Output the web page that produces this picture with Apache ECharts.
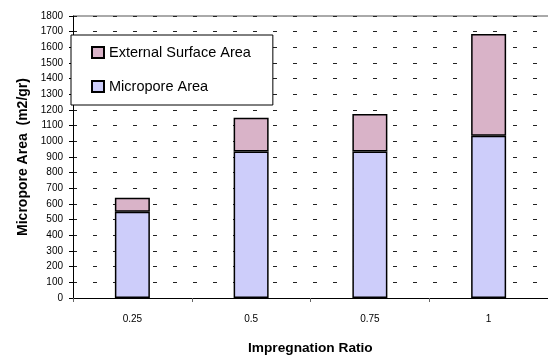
<!DOCTYPE html>
<html><head><meta charset="utf-8">
<script src="https://cdn.jsdelivr.net/npm/echarts@6/dist/echarts.min.js"></script>
<style>html,body{margin:0;padding:0;background:#fff}#c{width:548px;height:358px}</style>
</head><body><div id="c"></div>
<script>
const categories = ['0.25', '0.5', '0.75', '1'];
const microporeArea = [550, 935, 935, 1035];
const externalArea = [90, 215, 240, 650];
const yTicks = [0, 1800, 100];

const chart = echarts.init(document.getElementById('c'), null, {renderer: 'canvas'});
const font = 'Liberation Sans, Arial, sans-serif';
chart.setOption({
  animation: false,
  backgroundColor: '#fff',
  grid: {left: 73, top: 16, width: 537, height: 282, containLabel: false},
  legend: {
    orient: 'vertical', left: 71, top: 35,
    data: ['External Surface Area', 'Micropore Area'],
    backgroundColor: '#fff', borderColor: '#000', borderWidth: 1,
    padding: [10, 22, 11, 20], itemGap: 19, itemWidth: 12, itemHeight: 11,
    textStyle: {fontFamily: font, fontSize: 14.5, color: '#000'},
    icon: 'rect'
  },
  xAxis: {
    type: 'category', data: categories,
    axisLine: {lineStyle: {color: '#000', width: 1}},
    axisTick: {show: true, length: 4, lineStyle: {color: '#666'}},
    axisLabel: {fontFamily: font, fontSize: 10, color: '#000', margin: 16},
    splitLine: {show: false}
  },
  yAxis: {
    type: 'value', min: yTicks[0], max: yTicks[1], interval: yTicks[2],
    name: 'Micropore Area  (m2/gr)', nameLocation: 'middle', nameGap: 40,
    nameTextStyle: {fontFamily: font, fontSize: 14, fontWeight: 'bold', color: '#000'},
    axisLine: {show: true, lineStyle: {color: '#000', width: 1}},
    axisTick: {show: true, length: 4, inside: false, lineStyle: {color: '#000'}},
    axisLabel: {fontFamily: font, fontSize: 10, color: '#000', margin: 10, formatter: v => String(v)},
    splitLine: {show: true, lineStyle: {color: '#222', width: 1, type: [4, 16], dashOffset: 0}}
  },
  graphic: [
    {type: 'line', shape: {x1: 73, y1: 16, x2: 548, y2: 16}, style: {stroke: '#555', lineWidth: 1}},
    {type: 'text', left: 248, top: 341, style: {text: 'Impregnation Ratio', font: 'bold 13.7px ' + font, fill: '#000'}}
  ],
  series: [
    {name: 'Micropore Area', type: 'bar', stack: 'a', data: microporeArea, barWidth: 35,
     itemStyle: {color: '#cdcdfa', borderColor: '#000', borderWidth: 1.5}},
    {name: 'External Surface Area', type: 'bar', stack: 'a', data: externalArea, barWidth: 35,
     itemStyle: {color: '#d9b3c8', borderColor: '#000', borderWidth: 1.5}}
  ]
});
</script></body></html>
